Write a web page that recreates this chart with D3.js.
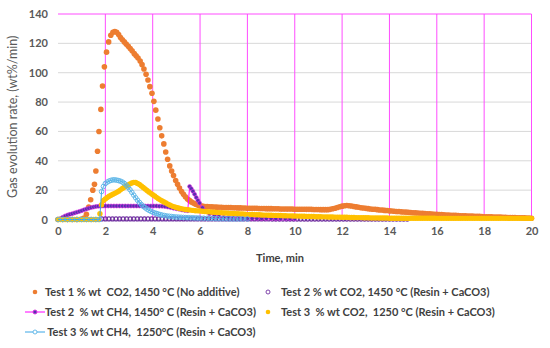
<!DOCTYPE html>
<html>
<head>
<meta charset="utf-8">
<script src="https://cdn.jsdelivr.net/npm/d3@7/dist/d3.min.js"></script>
<style>
body { margin: 0; background: #fff; }
text { font-family: Lato, "Open Sans", sans-serif; white-space: pre; }
</style>
</head>
<body>
<svg id="chart" width="550" height="348"></svg>
<script>
// Data: [time (min), rate (wt%/min)]
const test1CO2 = [
    [0,0],[0.2,0],[0.4,0],[0.6,0],[0.8,0],[1.0,0.3],[1.1,1],[1.2,3.5],[1.3,8.5],[1.38,13.5],[1.47,20],[1.54,24],
    [1.6,33],[1.67,46.5],[1.73,60],[1.81,75],[1.88,91],[1.96,104],[2.05,114],[2.14,121],[2.23,125.5],[2.32,127.5],
    [2.4,128],[2.48,127.5],[2.56,126],[2.64,124],[2.72,122.5],[2.8,121],[2.88,119.5],[2.97,118],[3.05,116.5],
    [3.13,115],[3.22,113],[3.3,111.5],[3.38,110],[3.47,108],[3.55,105.5],[3.63,102.5],[3.72,99],[3.8,95],
    [3.88,90.5],[3.97,86],[4.05,80.5],[4.13,74.5],[4.22,68.5],[4.3,62.5],[4.38,57],[4.47,51.5],[4.55,46],
    [4.63,41],[4.72,36.5],[4.8,33],[4.88,30],[4.97,26.5],[5.05,24],[5.13,21.5],[5.22,19],[5.3,17.2],[5.38,15.5],
    [5.47,14],[5.55,13],[5.63,12],[5.72,11.2],[5.8,10.5],[5.88,10],[5.95,9.6],
    [6.0,9.3],[6.1,9.1],[6.2,8.9],[6.3,8.8],[6.4,8.7],[6.5,8.6],[6.6,8.5],[6.7,8.4],[6.8,8.3],[6.9,8.3],
    [7.0,8.2],[7.1,8.2],[7.2,8.1],[7.3,8.1],[7.4,8.0],[7.5,8.0],[7.6,7.9],[7.7,7.9],[7.8,7.8],[7.9,7.8],
    [8.0,7.7],[8.1,7.7],[8.2,7.6],[8.3,7.6],[8.4,7.6],[8.5,7.5],[8.6,7.5],[8.7,7.5],[8.8,7.4],[8.9,7.4],
    [9.0,7.4],[9.1,7.3],[9.2,7.3],[9.3,7.3],[9.4,7.2],[9.5,7.2],[9.6,7.2],[9.7,7.1],[9.8,7.1],[9.9,7.1],
    [10.0,7.0],[10.1,7.0],[10.2,7.0],[10.3,7.0],[10.4,7.0],[10.5,6.9],[10.6,6.9],[10.7,6.9],[10.8,6.8],[10.9,6.8],
    [11.0,6.8],[11.1,6.7],[11.2,6.7],[11.3,6.7],[11.4,6.7],[11.5,6.9],[11.6,7.3],[11.7,7.7],[11.8,8.2],[11.9,8.7],
    [12.0,9.1],[12.1,9.4],[12.2,9.5],[12.3,9.4],[12.4,9.2],[12.5,8.9],[12.6,8.6],[12.7,8.3],[12.8,8.0],[12.9,7.8],
    [13.0,7.6],[13.1,7.4],[13.2,7.2],[13.3,7.0],[13.4,6.9],[13.5,6.7],[13.6,6.5],[13.7,6.4],[13.8,6.2],[13.9,6.1],
    [14.0,5.9],[14.1,5.8],[14.2,5.6],[14.3,5.5],[14.4,5.4],[14.5,5.2],[14.6,5.1],[14.7,5.0],[14.8,4.9],[14.9,4.8],
    [15.0,4.6],[15.1,4.5],[15.2,4.4],[15.3,4.3],[15.4,4.2],[15.5,4.1],[15.6,3.9],[15.7,3.8],[15.8,3.7],[15.9,3.6],
    [16.0,3.5],[16.1,3.4],[16.2,3.3],[16.3,3.2],[16.4,3.1],[16.5,3.0],[16.6,2.9],[16.7,2.9],[16.8,2.8],[16.9,2.7],
    [17.0,2.6],[17.1,2.5],[17.2,2.5],[17.3,2.4],[17.4,2.3],[17.5,2.3],[17.6,2.2],[17.7,2.1],[17.8,2.1],[17.9,2.0],
    [18.0,1.9],[18.1,1.9],[18.2,1.8],[18.3,1.8],[18.4,1.7],[18.5,1.7],[18.6,1.6],[18.7,1.6],[18.8,1.5],[18.9,1.5],
    [19.0,1.4],[19.1,1.4],[19.2,1.3],[19.3,1.3],[19.4,1.2],[19.5,1.2],[19.6,1.1],[19.7,1.1],[19.8,1.0],[19.9,1.0],
    [20.0,0.9]
];

const test2CO2 = [
    [1.85,0.4],[2.0,0.4],[2.15,0.4],[2.3,0.4],[2.45,0.4],[2.6,0.4],[2.75,0.4],[2.9,0.4],[3.05,0.4],[3.2,0.4],
    [3.35,0.4],[3.5,0.4],[3.65,0.4],[3.8,0.4],[3.95,0.4],[4.1,0.4],[4.25,0.4],[4.4,0.4],[4.55,0.4],[4.7,0.4],
    [4.85,0.4],[5.0,0.4],[5.15,0.4],[5.3,0.4],[5.45,0.4],[5.6,0.4],[5.75,0.4],[5.9,0.4],[6.05,0.4],[6.2,0.4],
    [6.35,0.4],[6.5,0.4],[6.65,0.4],[6.8,0.4],[6.95,0.4],[7.1,0.4],[7.25,0.4],[7.4,0.4],[7.55,0.4],[7.7,0.4],
    [7.85,0.4],[8.0,0.4],[8.15,0.4],[8.3,0.4],[8.45,0.4],[8.6,0.4],[8.75,0.4],[8.9,0.4],[9.05,0.3],[9.2,0.3],
    [9.35,0.3],[9.5,0.3],[9.65,0.3],[9.8,0.3],[9.95,0.3],[10.1,0.3],[10.25,0.3],[10.4,0.3],[10.55,0.3],[10.7,0.3],
    [10.85,0.3],[11.0,0.3],[11.15,0.3],[11.3,0.3],[11.45,0.3],[11.6,0.3],[11.75,0.3],[11.9,0.3],[12.05,0.3],[12.2,0.3],
    [12.35,0.3],[12.5,0.3],[12.65,0.3],[12.8,0.3],[12.95,0.3],[13.1,0.3],[13.25,0.3],[13.4,0.3],[13.55,0.3],[13.7,0.3],
    [13.85,0.3],[14.0,0.3],[14.15,0.3],[14.3,0.3],[14.45,0.3],[14.6,0.3],[14.75,0.3]
];

const test2CH4 = [
    [0,0],[0.1,0.6],[0.2,1.5],[0.3,2.4],[0.4,3],[0.5,3.5],[0.6,4],[0.7,4.5],[0.8,5],[0.9,5.5],[1.0,6],[1.1,6.6],
    [1.2,7.2],[1.3,7.7],[1.4,8.1],[1.5,8.5],[1.6,8.8],[1.7,9],[1.8,9.1],[1.9,9.2],[2.0,9.2],[2.12,9.2],[2.24,9.2],
    [2.36,9.2],[2.48,9.2],[2.6,9.2],[2.72,9.2],[2.84,9.2],[2.96,9.2],[3.08,9.2],[3.2,9.2],[3.32,9.2],[3.44,9.2],
    [3.56,9.2],[3.68,9.2],[3.8,9.2],[3.92,9.2],[4.04,9.2],[4.16,9.2],[4.28,9.1],[4.4,9.0],[4.52,8.8],[4.64,8.5],
    [4.76,8.1],[4.88,7.7],[5.0,7.3],[5.12,6.9],[5.24,6.5],[5.36,6.2],[5.48,6.0],
    [5.56,22.5],[5.63,21],[5.7,19.2],[5.77,17.2],[5.84,15],[5.91,13],[5.98,11.2],
    [6.1,8],[6.2,6],[6.4,4],[6.6,3],[6.8,2.2],[7.0,1.6],[7.2,1.3],[7.4,1.1],[7.6,1.0],[7.8,0.9],[8.0,0.8],
    [8.2,0.7],[8.4,0.7],[8.6,0.6],[8.8,0.6],[9.0,0.6],[9.2,0.5],[9.4,0.5],[9.6,0.5],[9.8,0.5],[10.0,0.5]
];

const test3CO2 = [
    [0,0],[0.1,0],[0.2,0],[0.3,0],[0.4,0],[0.5,0],[0.6,0],[0.7,0],[0.8,0],[0.9,0],[1.0,0],[1.1,0],[1.2,0],
    [1.3,0],[1.4,0],[1.5,0],[1.6,0],[1.7,0],[1.77,4],[1.84,10],[1.92,13],
    [2.0,14],[2.08,15],[2.16,15.8],[2.24,16.5],[2.32,17.2],[2.4,17.8],[2.48,18.5],[2.56,19.3],[2.64,20.2],
    [2.72,21.2],[2.8,22],[2.88,22.8],[2.96,23.6],[3.04,24.3],[3.12,24.9],[3.2,25.3],[3.28,25.2],[3.36,24.6],
    [3.44,23.8],[3.52,22.8],[3.6,21.8],[3.68,20.8],[3.76,19.8],[3.84,18.8],[3.92,17.8],[4.0,16.9],[4.08,16.0],
    [4.16,15.1],[4.24,14.2],[4.32,13.4],[4.4,12.6],[4.48,11.9],[4.56,11.2],[4.64,10.5],[4.72,9.9],[4.8,9.3],
    [4.88,8.8],[4.96,8.4],[5.04,8.0],[5.12,7.7],[5.2,7.4],[5.3,7.1],[5.4,6.8],[5.5,6.6],[5.6,6.4],[5.7,6.2],
    [5.8,6.0],[5.9,5.9],
    [6.0,5.8],[6.1,5.6],[6.2,5.5],[6.3,5.3],[6.4,5.2],[6.5,5.0],[6.6,4.9],[6.7,4.8],[6.8,4.7],[6.9,4.6],
    [7.0,4.5],[7.1,4.4],[7.2,4.3],[7.3,4.2],[7.4,4.1],[7.5,4.0],[7.6,3.9],[7.7,3.8],[7.8,3.7],[7.9,3.6],
    [8.0,3.5],[8.1,3.4],[8.2,3.4],[8.3,3.3],[8.4,3.2],[8.5,3.2],[8.6,3.1],[8.7,3.0],[8.8,3.0],[8.9,2.9],
    [9.0,2.9],[9.1,2.8],[9.2,2.8],[9.3,2.7],[9.4,2.7],[9.5,2.6],[9.6,2.6],[9.7,2.5],[9.8,2.5],[9.9,2.4],
    [10.0,2.4],[10.1,2.3],[10.2,2.3],[10.3,2.2],[10.4,2.2],[10.5,2.1],[10.6,2.1],[10.7,2.0],[10.8,2.0],[10.9,1.9],
    [11.0,1.9],[11.1,1.9],[11.2,1.8],[11.3,1.8],[11.4,1.7],[11.5,1.7],[11.6,1.7],[11.7,1.6],[11.8,1.6],[11.9,1.6],
    [12.0,1.5],[12.1,1.5],[12.2,1.5],[12.3,1.4],[12.4,1.4],[12.5,1.4],[12.6,1.3],[12.7,1.3],[12.8,1.3],[12.9,1.2],
    [13.0,1.2],[13.1,1.2],[13.2,1.1],[13.3,1.1],[13.4,1.1],[13.5,1.1],[13.6,1.0],[13.7,1.0],[13.8,1.0],[13.9,1.0],
    [14.0,0.9],[14.1,0.9],[14.2,0.9],[14.3,0.9],[14.4,0.9],[14.5,0.9],[14.6,0.9],[14.7,0.9],[14.8,0.9],[14.9,0.9],
    [15.0,0.9],[15.1,0.9],[15.2,0.9],[15.3,0.9],[15.4,0.9],[15.5,0.9],[15.6,0.9],[15.7,0.9],[15.8,0.9],[15.9,0.9],
    [16.0,0.8],[16.1,0.8],[16.2,0.8],[16.3,0.8],[16.4,0.8],[16.5,0.8],[16.6,0.8],[16.7,0.8],[16.8,0.8],[16.9,0.8],
    [17.0,0.8],[17.1,0.8],[17.2,0.8],[17.3,0.8],[17.4,0.8],[17.5,0.8],[17.6,0.8],[17.7,0.8],[17.8,0.8],[17.9,0.8],
    [18.0,0.8],[18.1,0.8],[18.2,0.8],[18.3,0.8],[18.4,0.8],[18.5,0.8],[18.6,0.8],[18.7,0.8],[18.8,0.8],[18.9,0.8],
    [19.0,0.8],[19.1,0.8],[19.2,0.8],[19.3,0.8],[19.4,0.8],[19.5,0.8],[19.6,0.8],[19.7,0.8],[19.8,0.8],[19.9,0.8],
    [20.0,0.8]
];

const test3CH4 = [
    [0,0],[0.2,0],[0.4,0],[0.6,0],[0.8,0],[1.0,0],[1.2,0],[1.4,0],[1.6,0],[1.76,0],[1.84,19],[1.92,22.5],
    [2.0,24.5],[2.08,25.5],[2.16,26.2],[2.24,26.7],[2.32,27],[2.4,27],[2.48,26.8],[2.56,26.5],[2.64,26.1],
    [2.72,25.5],[2.8,24.6],[2.88,23.4],[2.96,22],[3.04,20.3],[3.12,18.5],[3.2,16.6],[3.28,14.8],[3.36,13.1],
    [3.44,11.6],[3.52,10.2],[3.6,9.0],[3.68,8.0],[3.76,7.1],[3.84,6.3],[3.92,5.6],[4.0,5.0],[4.08,4.5],
    [4.16,4.1],[4.24,3.7],[4.32,3.3],[4.4,3.0],[4.5,2.7],[4.6,2.4],[4.7,2.2],[4.8,2.0],[4.9,1.8],[5.0,1.7],
    [5.1,1.6],[5.2,1.5],[5.3,1.4],[5.4,1.3],[5.5,1.25],[5.6,1.2],[5.7,1.15],[5.8,1.1],[5.9,1.05],[6.0,1.0],
    [6.15,0.9],[6.3,0.85],[6.45,0.8],[6.6,0.7],[6.75,0.6],[6.9,0.55],[7.05,0.5],[7.2,0.45],[7.35,0.4],[7.5,0.4],
    [7.65,0.4],[7.8,0.4],[8.0,0.4]
];

const xTicks = [0, 2, 4, 6, 8, 10, 12, 14, 16, 18, 20];
const yTicks = [0, 20, 40, 60, 80, 100, 120, 140];

const legendLabels = [
    "Test 1 % wt  CO2, 1450 °C (No additive)",
    "Test 2 % wt CO2, 1450 °C (Resin + CaCO3)",
    "Test 2  % wt CH4, 1450° C (Resin + CaCO3)",
    "Test 3  % wt CO2,  1250 °C (Resin + CaCO3)",
    " Test 3 % wt CH4,  1250°C (Resin + CaCO3)"
];

// series styles, same order as legendLabels
const styles = [
    {data: test1CO2, type: "dot", fill: "#ED7D31", stroke: "none", r: 2.8, sw: 0},
    {data: test2CO2, type: "ring", fill: "#fff", stroke: "#7030A0", r: 2, sw: 1.2},
    {data: test2CH4, type: "lineDot", fill: "#5530B0", stroke: "#E030E0", line: "#FF00FF", r: 2, sw: 0.6},
    {data: test3CO2, type: "dot", fill: "#FFC000", stroke: "none", r: 2.7, sw: 0},
    {data: test3CH4, type: "lineRing", fill: "#fff", stroke: "#5AB4E6", line: "#3AA6E6", r: 2.3, sw: 0.9}
];

const margin = {top: 14, right: 18.5, bottom: 128.5, left: 58};
const width = 550, height = 348;

const svg = d3.select("#chart");

const xScale = d3.scaleLinear().domain([0, 20]).range([margin.left, width - margin.right]);
const yScale = d3.scaleLinear().domain([0, 140]).range([height - margin.bottom, margin.top]);

// gridlines
svg.append("g").selectAll("line")
    .data(yTicks.filter((d) => d < 140))
    .enter().append("line")
        .attr("x1", xScale(0)).attr("x2", xScale(20))
        .attr("y1", (d) => yScale(d)).attr("y2", (d) => yScale(d))
        .attr("stroke", "#D9D9D9").attr("stroke-width", 1);

svg.append("line")
    .attr("x1", xScale(0)).attr("x2", xScale(20))
    .attr("y1", yScale(140)).attr("y2", yScale(140))
    .attr("stroke", "#FF4CFF").attr("stroke-width", 1);

svg.append("g").selectAll("line")
    .data(xTicks.filter((d) => d > 0))
    .enter().append("line")
        .attr("x1", (d) => xScale(d)).attr("x2", (d) => xScale(d))
        .attr("y1", yScale(140)).attr("y2", yScale(0))
        .attr("stroke", "#FF4CFF").attr("stroke-width", 1);

// axes (labels only)
const yAxis = d3.axisLeft(yScale).tickValues(yTicks).tickSize(0).tickPadding(10);
const xAxis = d3.axisBottom(xScale).tickValues(xTicks).tickSize(0).tickPadding(8);

const gy = svg.append("g").attr("transform", "translate(" + margin.left + ",0)").call(yAxis);
const gx = svg.append("g").attr("transform", "translate(0," + yScale(0) + ")").call(xAxis);
[gx, gy].forEach((g) => {
    g.select(".domain").remove();
    g.selectAll("text")
        .attr("fill", "#595959")
        .style("font-size", "11px")
        .style("font-weight", "bold")
        .style("font-family", "Lato, sans-serif");
});

// series
const plotLine = d3.line().x((d) => xScale(d[0])).y((d) => yScale(d[1]));

styles.forEach((s) => {
    let g = svg.append("g");
    if (s.line) {
        g.append("path").datum(s.data)
            .attr("d", plotLine)
            .attr("fill", "none")
            .attr("stroke", s.line)
            .attr("stroke-width", 1);
    }
    g.selectAll("circle")
        .data(s.data)
        .enter().append("circle")
            .attr("cx", (d) => xScale(d[0]))
            .attr("cy", (d) => yScale(d[1]))
            .attr("r", s.r)
            .attr("fill", s.type === "ring" || s.type === "lineRing" ? "none" : s.fill)
            .attr("stroke", s.stroke)
            .attr("stroke-width", s.sw);
});

// axis titles
svg.append("text")
    .attr("transform", "translate(17," + ((yScale(0) + yScale(140)) / 2) + ") rotate(-90)")
    .attr("text-anchor", "middle")
    .attr("fill", "#595959")
    .style("font-size", "12.5px")
    .text("Gas evolution rate, (wt%/min)");

svg.append("text")
    .attr("x", 280).attr("y", 262)
    .attr("text-anchor", "middle")
    .attr("fill", "#404040")
    .style("font-size", "11px")
    .style("font-weight", "bold")
    .text("Time, min");

// legend
const colX = [35, 268];
const rowY = [292, 312, 332];
const legend = svg.append("g");

legendLabels.forEach((label, i) => {
    const s = styles[i];
    const cx = colX[i % 2];
    const cy = rowY[Math.floor(i / 2)];
    let item = legend.append("g");
    if (s.line) {
        item.append("line")
            .attr("x1", cx - 10).attr("x2", cx + 10)
            .attr("y1", cy).attr("y2", cy)
            .attr("stroke", s.line).attr("stroke-width", 1);
    }
    item.append("circle")
        .attr("cx", cx).attr("cy", cy)
        .attr("r", s.type === "dot" ? 2.3 : 2)
        .attr("fill", s.type === "ring" || s.type === "lineRing" ? "#fff" : s.fill)
        .attr("stroke", s.stroke)
        .attr("stroke-width", 0.9);
    item.append("text")
        .attr("x", cx + (i % 2 === 0 ? 10 : 13))
        .attr("y", cy + 4)
        .attr("fill", "#404040")
        .style("font-size", "11px")
        .style("font-weight", "bold")
        .text(label);
});
</script>
</body>
</html>
